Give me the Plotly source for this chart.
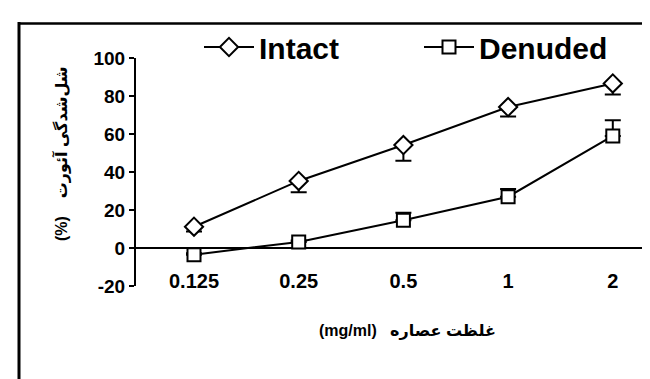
import plotly.graph_objects as go

# ---------------- data ----------------
concentrations = ["0.125", "0.25", "0.5", "1", "2"]
intact_values = [11.2, 35.3, 54.2, 74.2, 86.6]
intact_err_minus = [2.5, 6.0, 8.3, 5.0, 5.8]
denuded_values = [-3.5, 3.2, 14.6, 27.0, 59.0]
denuded_err_plus = [0.8, 0.8, 4.0, 4.0, 8.3]
y_ticks = [-20, 0, 20, 40, 60, 80, 100]

x_title = "(mg/ml)   غلظت عصاره"
y_title = "(%)    شل‌شدگی آئورت"

W, H = 650, 379
ML, MR, MT, MB = 128, 0, 0, 0
PW, PH = W - ML - MR, H - MT - MB

# category layout (pixels): first category centre and spacing
FIRST_CAT_PX, CAT_STEP_PX = 186, 104.7


def px(x):
    return (x - ML) / PW


def py(y):
    return (H - MB - y) / PH


FONT = "Arial, 'Liberation Sans', 'DejaVu Sans', sans-serif"

fig = go.Figure()
fig.add_trace(go.Scatter(
    x=concentrations, y=intact_values, name="Intact",
    mode="lines+markers",
    line=dict(color="black", width=2),
    marker=dict(symbol="diamond", size=14, color="white",
                line=dict(color="black", width=2)),
    error_y=dict(type="data", symmetric=False,
                 array=[0] * len(intact_err_minus),
                 arrayminus=intact_err_minus,
                 color="black", thickness=2, width=8),
))
fig.add_trace(go.Scatter(
    x=concentrations, y=denuded_values, name="Denuded",
    mode="lines+markers",
    line=dict(color="black", width=2),
    marker=dict(symbol="square", size=13, color="white",
                line=dict(color="black", width=2)),
    error_y=dict(type="data", symmetric=False,
                 array=denuded_err_plus,
                 arrayminus=[0] * len(denuded_err_plus),
                 color="black", thickness=2, width=8),
))

x_lo = (ML - FIRST_CAT_PX) / CAT_STEP_PX
x_hi = (W - MR - FIRST_CAT_PX) / CAT_STEP_PX

fig.update_layout(
    width=W, height=H,
    margin=dict(l=ML, r=MR, t=MT, b=MB, pad=0, autoexpand=False),
    paper_bgcolor="white", plot_bgcolor="white",
    font=dict(family=FONT, color="black"),
    showlegend=True,
    legend=dict(orientation="h", x=px(191), xanchor="left",
                y=py(39), yanchor="middle",
                font=dict(size=30, family=FONT, weight="bold"),
                itemwidth=50,
                entrywidth=155, entrywidthmode="pixels",
                bgcolor="rgba(0,0,0,0)", borderwidth=0),
    xaxis=dict(
        type="category", range=[x_lo, x_hi],
        anchor="free", position=py(259),
        showline=False, showgrid=False, zeroline=False,
        ticks="", tickfont=dict(size=20, family=FONT, weight="bold"),
    ),
    yaxis=dict(
        range=[-20, 100], domain=[py(278), py(50)],
        tickvals=y_ticks, ticktext=[str(v) for v in y_ticks],
        showline=True, linecolor="black", linewidth=2,
        ticks="outside", ticklen=5, tickwidth=2, tickcolor="black",
        showgrid=False,
        zeroline=True, zerolinecolor="black", zerolinewidth=2,
        tickfont=dict(size=19, family=FONT, weight="bold"),
    ),
    annotations=[
        dict(text=x_title, xref="paper", yref="paper",
             x=px(399), y=py(323), xanchor="center", yanchor="middle",
             showarrow=False,
             font=dict(size=16, family=FONT, weight="bold")),
        dict(text=y_title, xref="paper", yref="paper",
             x=px(53), y=py(146), xanchor="center", yanchor="middle",
             textangle=-90, showarrow=False,
             font=dict(size=16, family=FONT, weight="bold")),
    ],
    shapes=[
        dict(type="line", xref="paper", yref="paper",
             x0=px(11), x1=px(11), y0=py(14), y1=py(400),
             line=dict(color="black", width=3)),
        dict(type="line", xref="paper", yref="paper",
             x0=px(10), x1=px(660), y0=py(15.5), y1=py(15.5),
             line=dict(color="black", width=2.5)),
    ],
)

fig.write_html("out.html")
